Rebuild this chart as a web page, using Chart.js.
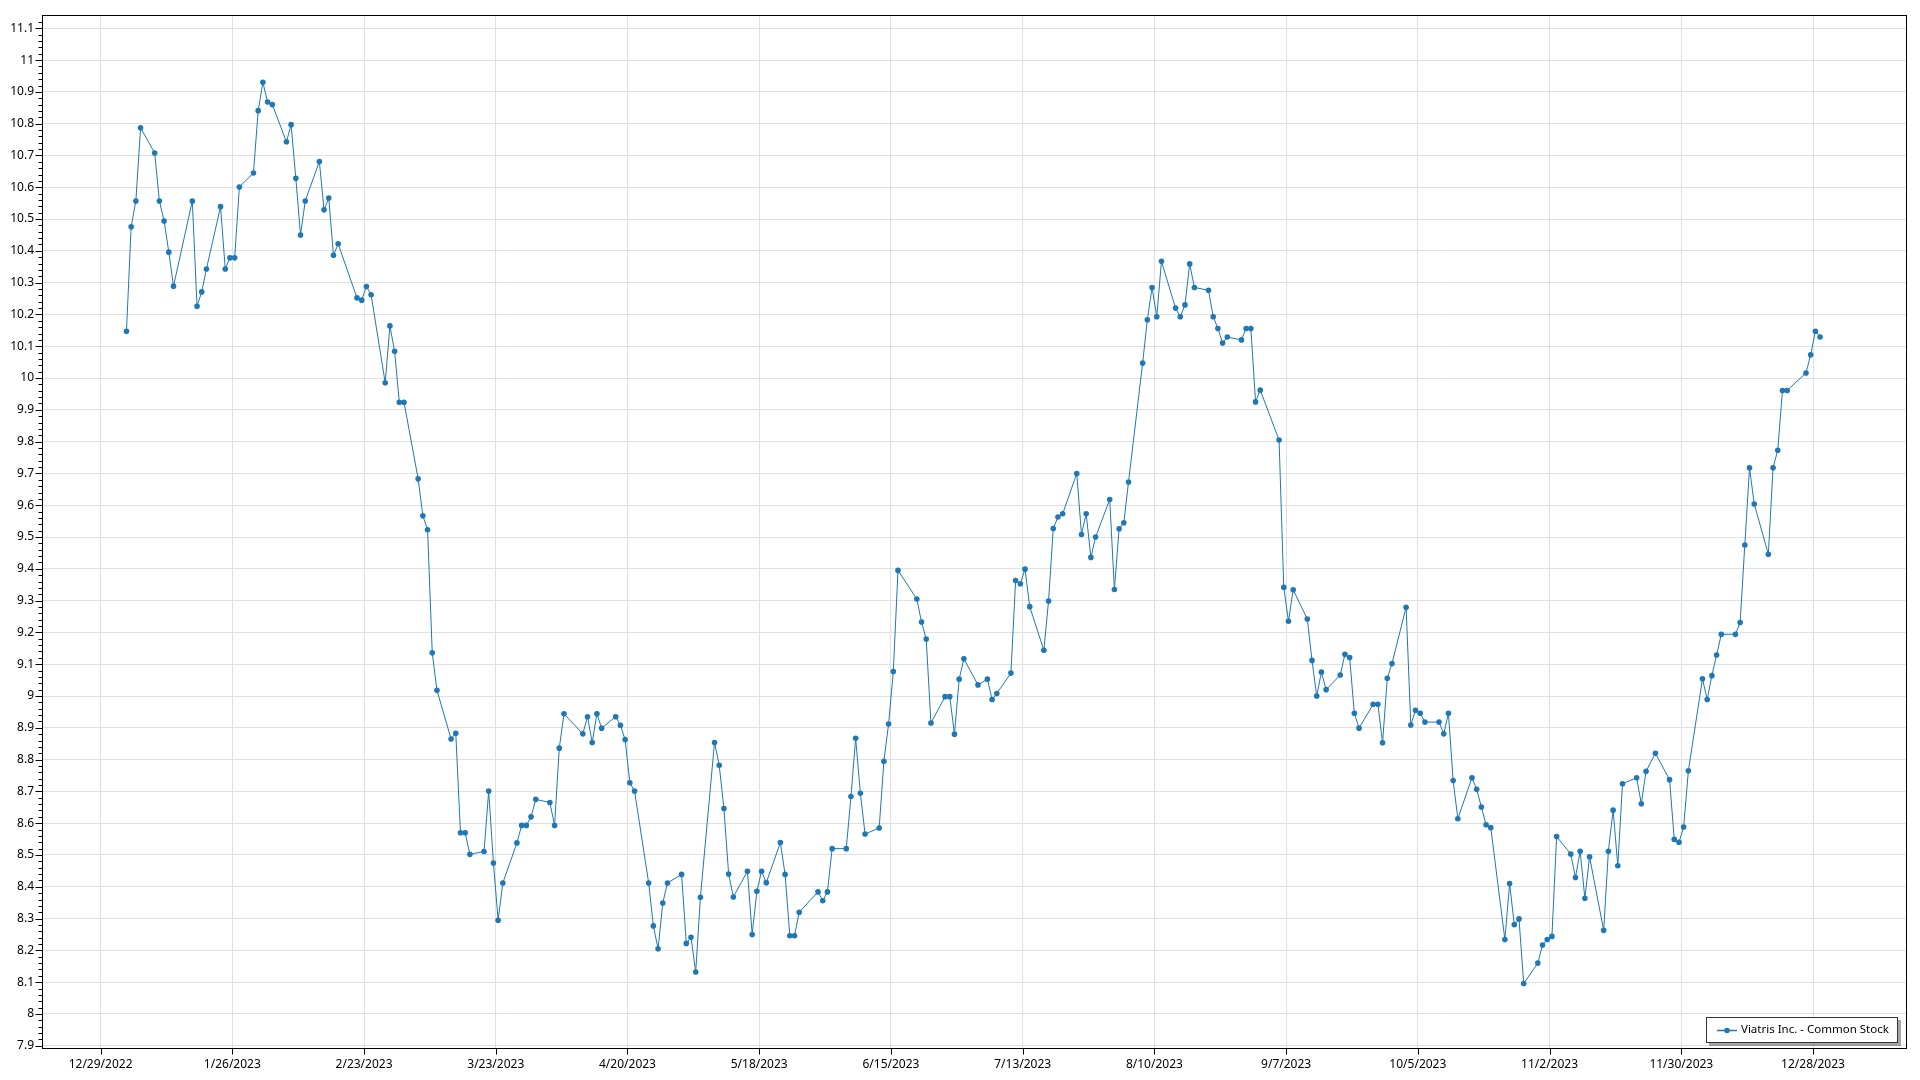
<!DOCTYPE html>
<html>
<head>
<meta charset="utf-8">
<script src="https://cdn.jsdelivr.net/npm/chart.js@4.4.1/dist/chart.umd.min.js"></script>
<style>
  html, body { margin: 0; padding: 0; background: #ffffff; overflow: hidden; }
  #wrap { width: 1920px; height: 1080px; position: relative; }
  canvas { display: block; }
</style>
</head>
<body>
<div id="wrap"><canvas id="c" width="1920" height="1080"></canvas></div>
<script>
// ---------------- DATA ----------------
const seriesName = 'Viatris Inc. - Common Stock';
const dataYear = 2023;

// trading days of each month (day-of-month), Jan..Dec 2023
const daysJan = [3,4,5,6,9,10,11,12,13,17,18,19,20,23,24,25,26,27,30,31];
const daysFeb = [1,2,3,6,7,8,9,10,13,14,15,16,17,21,22,23,24,27,28];
const daysMar = [1,2,3,6,7,8,9,10,13,14,15,16,17,20,21,22,23,24,27,28,29,30,31];
const daysApr = [3,4,5,6,10,11,12,13,14,17,18,19,20,21,24,25,26,27,28];
const daysMay = [1,2,3,4,5,8,9,10,11,12,15,16,17,18,19,22,23,24,25,26,30,31];
const daysJun = [1,2,5,6,7,8,9,12,13,14,15,16,20,21,22,23,26,27,28,29,30];
const daysJul = [3,5,6,7,10,11,12,13,14,17,18,19,20,21,24,25,26,27,28,31];
const daysAug = [1,2,3,4,7,8,9,10,11,14,15,16,17,18,21,22,23,24,25,28,29,30,31];
const daysSep = [1,5,6,7,8,11,12,13,14,15,18,19,20,21,22,25,26,27,28,29];
const daysOct = [2,3,4,5,6,9,10,11,12,13,16,17,18,19,20,23,24,25,26,27,30,31];
const daysNov = [1,2,3,6,7,8,9,10,13,14,15,16,17,20,21,22,24,27,28,29,30];
const daysDec = [1,4,5,6,7,8,11,12,13,14,15,18,19,20,21,22,26,27,28,29];

// closing prices
const closeJan = [10.147,10.476,10.557,10.787,10.708,10.557,10.494,10.396,10.289,10.557,10.226,10.271,10.343,10.539,10.343,10.378,10.378,10.601,10.645,10.841];
const closeFeb = [10.930,10.868,10.860,10.743,10.797,10.628,10.450,10.557,10.681,10.529,10.566,10.386,10.422,10.252,10.245,10.288,10.262,9.985,10.164];
const closeMar = [10.084,9.924,9.924,9.683,9.567,9.523,9.136,9.018,8.865,8.883,8.570,8.570,8.502,8.511,8.701,8.475,8.295,8.412,8.538,8.593,8.593,8.620,8.675];
const closeApr = [8.665,8.593,8.836,8.944,8.881,8.935,8.854,8.944,8.899,8.935,8.908,8.863,8.727,8.701,8.412,8.277,8.205,8.349,8.412];
const closeMay = [8.439,8.222,8.241,8.132,8.367,8.854,8.782,8.646,8.440,8.368,8.449,8.250,8.386,8.449,8.413,8.539,8.439,8.246,8.246,8.320,8.384,8.356];
const closeJun = [8.384,8.520,8.520,8.684,8.867,8.694,8.566,8.585,8.795,8.912,9.077,9.395,9.305,9.233,9.179,8.915,8.998,8.998,8.880,9.053,9.117];
const closeJul = [9.035,9.053,8.989,9.008,9.072,9.363,9.353,9.399,9.281,9.144,9.299,9.527,9.563,9.573,9.700,9.508,9.573,9.436,9.500,9.618];
const closeAug = [9.335,9.526,9.545,9.673,10.047,10.183,10.285,10.193,10.367,10.220,10.193,10.230,10.359,10.285,10.276,10.193,10.156,10.110,10.129,10.120,10.156,10.156,9.925];
const closeSep = [9.962,9.805,9.342,9.235,9.334,9.242,9.112,9.000,9.075,9.020,9.066,9.131,9.121,8.946,8.899,8.974,8.974,8.853,9.056,9.102];
const closeOct = [9.279,8.909,8.955,8.946,8.918,8.918,8.881,8.946,8.734,8.614,8.743,8.707,8.651,8.595,8.586,8.234,8.410,8.281,8.299,8.096,8.160,8.217];
const closeNov = [8.234,8.244,8.558,8.503,8.429,8.512,8.364,8.494,8.263,8.512,8.641,8.466,8.724,8.743,8.661,8.763,8.820,8.737,8.549,8.540,8.588];
const closeDec = [8.765,9.054,8.989,9.064,9.129,9.194,9.194,9.231,9.475,9.718,9.604,9.446,9.718,9.773,9.961,9.961,10.016,10.073,10.147,10.129];

// axis tick labels
const xTickLabels = ['12/29/2022','1/26/2023','2/23/2023','3/23/2023','4/20/2023','5/18/2023','6/15/2023',
                     '7/13/2023','8/10/2023','9/7/2023','10/5/2023','11/2/2023','11/30/2023','12/28/2023'];
const yTickValues = [7.9,8,8.1,8.2,8.3,8.4,8.5,8.6,8.7,8.8,8.9,9,9.1,9.2,9.3,9.4,9.5,9.6,9.7,9.8,9.9,10,
                     10.1,10.2,10.3,10.4,10.5,10.6,10.7,10.8,10.9,11,11.1];

// ---------------- BUILD ----------------
const DAY = 86400000;
function parseMDY(s){ const [m,d,y] = s.split('/').map(Number); return Date.UTC(y, m-1, d); }
const epoch = parseMDY(xTickLabels[0]);              // axis origin = first tick date
const xTickValues = xTickLabels.map(s => (parseMDY(s) - epoch) / DAY);
const SAMPLE_TIME = 0.5;                             // daily samples stamped at midday

const monthDays = [daysJan,daysFeb,daysMar,daysApr,daysMay,daysJun,daysJul,daysAug,daysSep,daysOct,daysNov,daysDec];
const monthClose = [closeJan,closeFeb,closeMar,closeApr,closeMay,closeJun,closeJul,closeAug,closeSep,closeOct,closeNov,closeDec];
const points = [];
monthDays.forEach((days, m) => {
  days.forEach((d, i) => {
    points.push({ x: (Date.UTC(dataYear, m, d) - epoch) / DAY + SAMPLE_TIME, y: monthClose[m][i] });
  });
});

const FONT = '"Segoe UI", "Noto Sans", "DejaVu Sans", sans-serif';
const LINE_COLOR = '#1f77b4';

const decorPlugin = {
  id: 'decor',
  afterDraw(chart) {
    const ctx = chart.ctx;
    const a = chart.chartArea;
    const xs = chart.scales.x, ys = chart.scales.y;
    ctx.save();
    // frame
    ctx.strokeStyle = '#000';
    ctx.lineWidth = 1;
    ctx.strokeRect(Math.round(a.left) - 0.5, Math.round(a.top) - 0.5,
                   Math.round(a.right - a.left) + 1, Math.round(a.bottom - a.top) + 1);
    // y ticks (major + minor)
    ctx.beginPath();
    const L = Math.round(a.left) - 0.5;
    for (let i = Math.ceil(ys.min * 50); i <= Math.floor(ys.max * 50); i++) {
      const y = Math.round(ys.getPixelForValue(i / 50)) + 0.5;
      const len = (i % 5 === 0) ? 7 : 4;
      ctx.moveTo(L - len, y); ctx.lineTo(L, y);
    }
    // x ticks (major)
    const B = Math.round(a.bottom) + 0.5;
    xTickValues.forEach(v => {
      const x = Math.round(xs.getPixelForValue(v)) + 0.5;
      ctx.moveTo(x, B); ctx.lineTo(x, B + 6);
    });
    ctx.stroke();

    // legend box (bottom-right inside plot)
    ctx.font = '11.5px ' + FONT;
    const label = chart.data.datasets[0].label;
    const tw = ctx.measureText(label).width;
    const boxW = Math.round(11 + 20 + 4 + tw + 9);
    const boxH = 26;
    const right = Math.round(a.right) - 8;
    const bottom = Math.round(a.bottom) - 5;
    const left = right - boxW, top = bottom - boxH;
    ctx.fillStyle = 'rgba(0,0,0,0.35)';
    ctx.fillRect(left + 3, top + 3, boxW, boxH);
    ctx.fillStyle = '#fff';
    ctx.fillRect(left, top, boxW, boxH);
    ctx.strokeStyle = '#333';
    ctx.strokeRect(left + 0.5, top + 0.5, boxW - 1, boxH - 1);
    const cy = top + boxH / 2;
    ctx.strokeStyle = LINE_COLOR;
    ctx.lineWidth = 1.5;
    ctx.beginPath();
    ctx.moveTo(left + 11, Math.round(cy) + 0.5); ctx.lineTo(left + 31, Math.round(cy) + 0.5);
    ctx.stroke();
    ctx.fillStyle = LINE_COLOR;
    ctx.beginPath();
    ctx.arc(left + 21, Math.round(cy) + 0.5, 2.8, 0, Math.PI * 2);
    ctx.fill();
    ctx.fillStyle = '#000';
    ctx.textBaseline = 'middle';
    ctx.textAlign = 'left';
    ctx.fillText(label, left + 35, cy);
    ctx.restore();
  }
};

new Chart(document.getElementById('c'), {
  type: 'line',
  data: {
    datasets: [{
      label: seriesName,
      data: points,
      borderColor: LINE_COLOR,
      backgroundColor: LINE_COLOR,
      borderWidth: 1,
      pointRadius: 2.8,
      pointHoverRadius: 2.8,
      pointBorderWidth: 0,
      tension: 0,
      fill: false
    }]
  },
  options: {
    responsive: false,
    animation: false,
    devicePixelRatio: 1,
    events: [],
    layout: { autoPadding: false, padding: { top: 16, right: 14, left: 0, bottom: 0 } },
    plugins: { legend: { display: false }, tooltip: { enabled: false } },
    scales: {
      x: {
        type: 'linear',
        min: -12.24,
        max: 383.76,
        afterBuildTicks: s => { s.ticks = xTickValues.map(v => ({ value: v })); },
        afterFit: s => { s.height = 32; },
        grid: { color: '#e0e0e0', lineWidth: 1, drawTicks: false },
        border: { display: false },
        ticks: {
          autoSkip: false, maxRotation: 0, minRotation: 0, padding: 9,
          color: '#000', font: { family: FONT, size: 12 },
          callback: v => { const i = xTickValues.indexOf(v); return i >= 0 ? xTickLabels[i] : ''; }
        }
      },
      y: {
        type: 'linear',
        min: 7.893,
        max: 11.138,
        afterBuildTicks: s => { s.ticks = yTickValues.map(v => ({ value: v })); },
        afterFit: s => { s.width = 43; },
        grid: { color: '#e0e0e0', lineWidth: 1, drawTicks: false },
        border: { display: false },
        ticks: {
          autoSkip: false, padding: 9,
          color: '#000', font: { family: FONT, size: 12 },
          callback: v => String(Math.round(v * 10) / 10)
        }
      }
    }
  },
  plugins: [decorPlugin]
});
</script>
</body>
</html>
